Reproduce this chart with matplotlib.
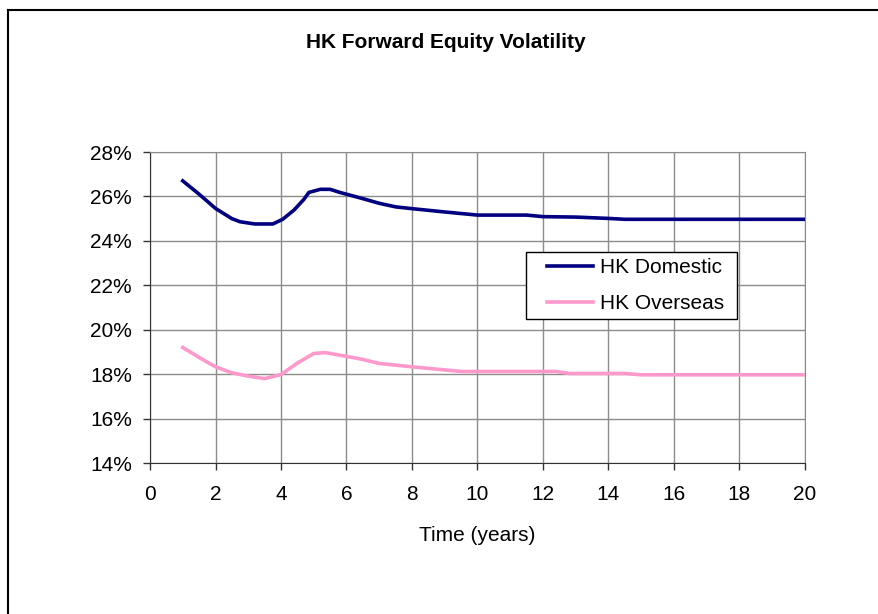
import numpy as np
import matplotlib.pyplot as plt
from matplotlib.ticker import FuncFormatter
from matplotlib.lines import Line2D

plt.rcParams['font.family'] = ['Liberation Sans', 'DejaVu Sans']

# forward vol term structure (years, vol in %)
years_dom = [1.0, 1.5, 2.0, 2.5, 2.75, 3.2, 3.75, 4.05, 4.4, 4.7, 4.85, 5.2, 5.5, 5.8, 6.0, 6.5, 7.0, 7.5,
             8.0, 9.0, 10.0, 11.5, 12.0, 13.0, 14.0, 14.5, 15.0, 16.0, 17.0, 18.0, 19.0, 20.0]
hk_domestic = [26.7, 26.1, 25.46, 25.0, 24.86, 24.76, 24.76, 24.97, 25.39, 25.87, 26.18, 26.32, 26.32, 26.18, 26.1,
               25.9, 25.69, 25.53, 25.45, 25.3, 25.16, 25.16, 25.09, 25.07, 25.01, 24.97, 24.97, 24.97, 24.97,
               24.97, 24.97, 24.97]

years_ovs = [1.0, 1.5, 2.0, 2.5, 3.0, 3.5, 4.0, 4.5, 5.0, 5.35, 6.0, 6.5, 7.0, 8.0, 9.5, 10.0, 12.0, 12.4, 12.8,
             14.0, 14.5, 15.0, 16.0, 17.0, 18.0, 19.0, 20.0]
hk_overseas = [19.2, 18.75, 18.33, 18.06, 17.91, 17.8, 17.98, 18.5, 18.93, 18.97, 18.8, 18.66, 18.48, 18.33,
               18.12, 18.12, 18.12, 18.12, 18.03, 18.03, 18.03, 17.97, 17.97, 17.97, 17.97, 17.97, 17.97]

x_ticks = np.arange(0, 21, 2)
y_ticks = np.arange(14, 29, 2)

fig = plt.figure(figsize=(8.79, 6.14), dpi=100)
ax = fig.add_axes([150 / 879, 1 - 463 / 614, 655 / 879, 311 / 614])

ax.plot(years_dom, hk_domestic, color='#000080', linewidth=2.6, label='HK Domestic', zorder=3)
ax.plot(years_ovs, hk_overseas, color='#ff99cc', linewidth=2.6, label='HK Overseas', zorder=3)

ax.set_xlim(0, 20)
ax.set_ylim(14, 28)
ax.set_xticks(x_ticks)
ax.set_yticks(y_ticks)
ax.yaxis.set_major_formatter(FuncFormatter(lambda v, _: f'{v:.0f}%'))
ax.grid(True, color='#8c8c8c', linewidth=1.0)
ax.set_axisbelow(True)
ax.tick_params(direction='out', length=5, width=1, labelsize=15, color='#333333')
ax.tick_params(axis='x', pad=10.5)
ax.tick_params(axis='y', pad=8)

for side in ('top', 'right'):
    ax.spines[side].set_color('#8c8c8c')
for side in ('left', 'bottom'):
    ax.spines[side].set_color('#333333')

ax.set_xlabel('Time (years)', fontsize=15, labelpad=16)
fig.text(446 / 879, 1 - 43 / 614, 'HK Forward Equity Volatility', ha='center', va='center',
         fontsize=15, fontweight='bold')

# legend box spans a fixed width; handles start inset from the frame
leg_x0 = (526 - 150) / 655
leg_w = 211 / 655
leg_top = (463 - 252) / 311
leg = ax.legend(loc='upper left', bbox_to_anchor=(leg_x0, leg_top - 0.3, leg_w, 0.3), mode='expand',
                fontsize=15, frameon=True, fancybox=False, framealpha=1, edgecolor='black',
                handlelength=3.1, borderpad=0.3, labelspacing=0.8, handletextpad=0.15, borderaxespad=0)
leg.get_frame().set_linewidth(1.0)
for hl in leg.get_lines():
    xd = hl.get_xdata()
    hl.set_xdata([xd[0] + 10.5, xd[-1] - 2.5])
    hl.set_ydata([hl.get_ydata()[0]] * 2)

# outer chart border
fig.add_artist(Line2D([8 / 879, 8 / 879], [-0.01, 1 - 10 / 614], transform=fig.transFigure, color='black', lw=1.5))
fig.add_artist(Line2D([8 / 879, 1.01], [1 - 10 / 614, 1 - 10 / 614], transform=fig.transFigure, color='black', lw=1.5))

fig.savefig('out.png', dpi=100)
